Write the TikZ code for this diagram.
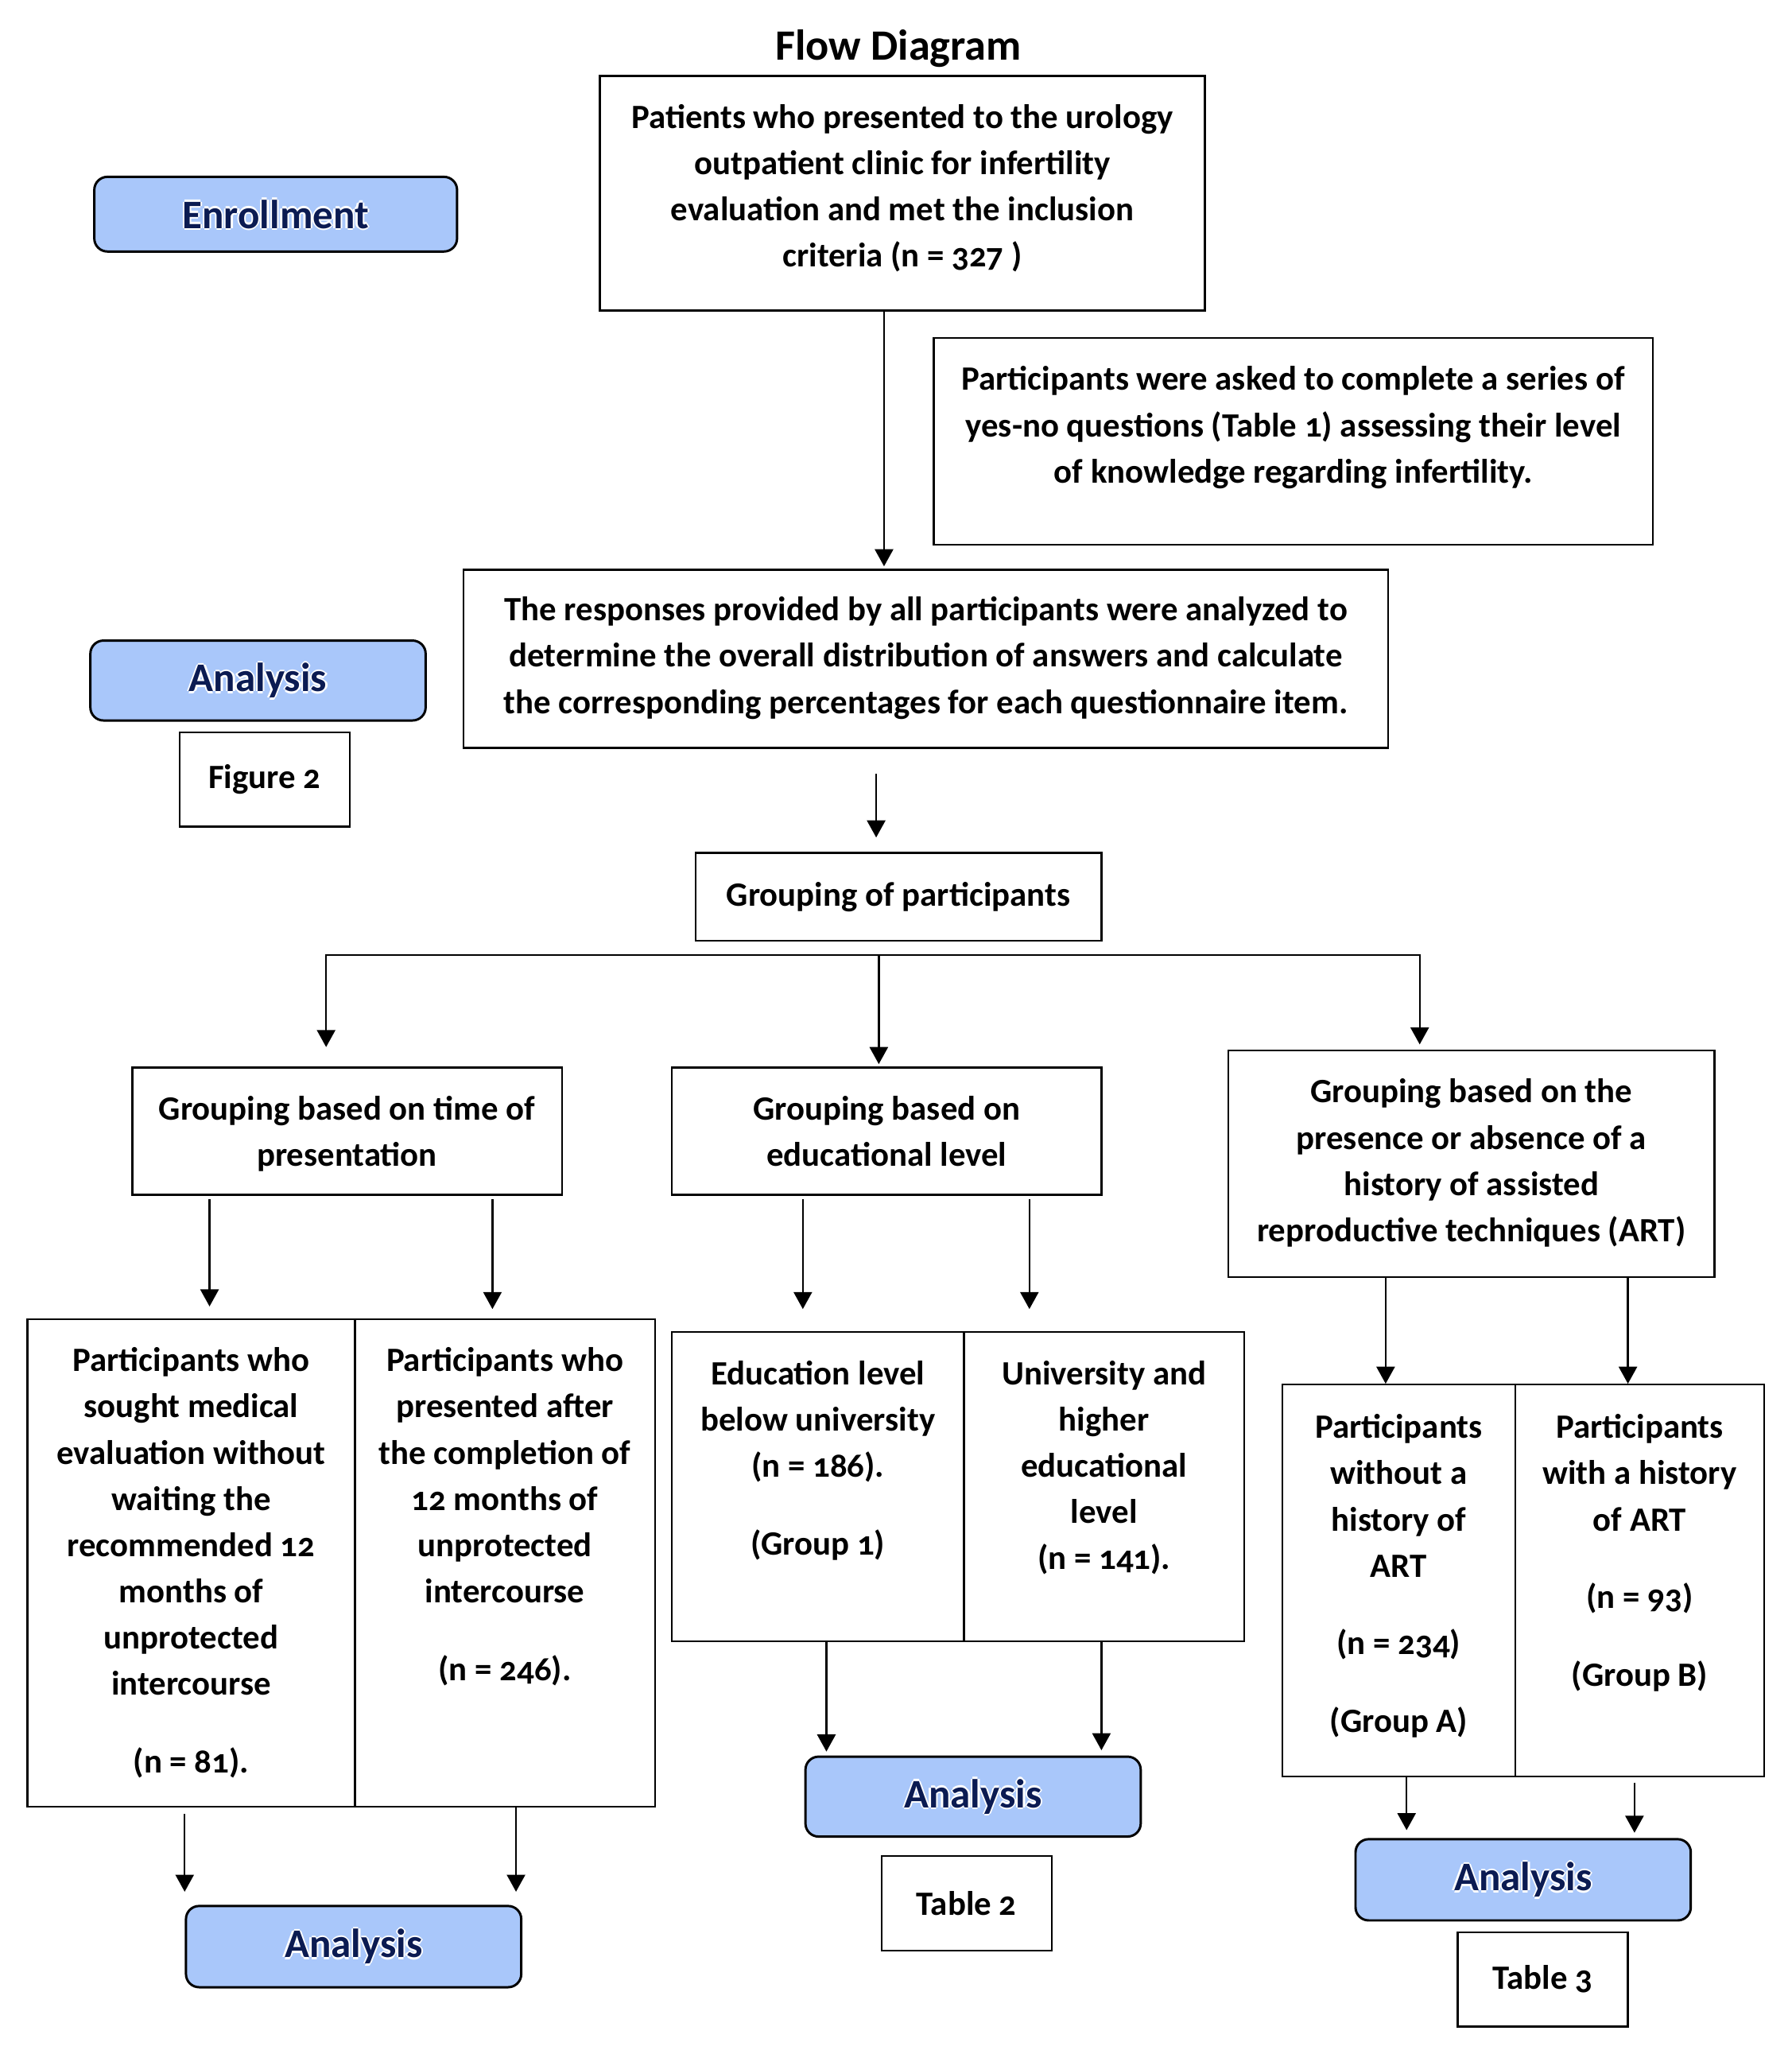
\documentclass[tikz,border=0pt]{standalone}
\usepackage{fontspec}
\setmainfont{Carlito}[Numbers=OldStyle]
\usetikzlibrary{arrows.meta,positioning}
\definecolor{hdrblue}{HTML}{A9C7FA}
\definecolor{hdrnavy}{HTML}{0B1B52}
\newcommand\glowtext[1]{\leavevmode
  \rlap{\color{white}\kern0.7pt#1}\rlap{\color{white}\kern-0.7pt#1}%
  \rlap{\color{white}\raisebox{0.7pt}{#1}}\rlap{\color{white}\raisebox{-0.7pt}{#1}}#1}

\begin{document}
\begin{tikzpicture}[x=0.5pt,y=-0.5pt,
    box/.style={draw=black,line width=0.7pt,inner sep=0pt,font=\fontsize{13}{17.65}\selectfont\bfseries},
    hdr/.style={draw=black,line width=0.9pt,rounded corners=5pt,fill=hdrblue,text=hdrnavy,
      inner sep=0pt,minimum width=128pt,font=\fontsize{15.5}{18}\selectfont\bfseries},
    txt/.style={align=center,inner sep=0pt,font=\fontsize{13}{17.65}\selectfont\bfseries},
    arr/.style={line width=0.7pt,-{Triangle[width=7pt,length=6.5pt]}}]
   \useasboundingbox (0,0) rectangle (1368,1568);

   % top part
   \node[font=\fontsize{16.5}{20}\selectfont\bfseries] (title) at (686,37) {Flow Diagram};
   \node[hdr,minimum width=138.5pt,minimum height=28.5pt] (enr) at (210.5,163.5) {\glowtext{Enrollment}};
   \node[box,minimum width=231pt,minimum height=89.5pt] (b1) at (689,147.5) {};
   \node[txt,below=11pt of b1.north] (t1) {Patients who presented to the urology\\ outpatient clinic for infertility\\ evaluation and met the inclusion\\ criteria (n = 327 )};
   \node[box,minimum width=274.5pt,minimum height=79pt] (b2) at (987.5,337) {};
   \node[txt,below=11pt of b2.north] (t2) {Participants were asked to complete a series of\\ yes-no questions (Table 1) assessing their level\\ of knowledge regarding infertility.};
   \node[box,minimum width=353pt,minimum height=68pt] (b3) at (707,503) {};
   \node[txt,below=10.5pt of b3.north] (t3) {The responses provided by all participants were analyzed to\\ determine the overall distribution of answers and calculate\\ the corresponding percentages for each questionnaire item.};
   \node[hdr,minimum height=30.5pt] (an1) at (197,519.5) {\glowtext{Analysis}};
   \node[box,minimum width=65pt,minimum height=36pt] (fig2) at (202,595) {Figure 2};
   \node[box,minimum width=155pt,minimum height=33.5pt] (grp) at (686,684.5) {Grouping of participants};

   % three groupings
   \node[box,minimum width=164pt,minimum height=48.5pt] (gT) at (265,863.5) {};
   \node[txt,below=11pt of gT.north] (tT) {Grouping based on time of\\ presentation};
   \node[box,minimum width=164pt,minimum height=48.5pt] (gE) at (677,863.5) {};
   \node[txt,below=11pt of gE.north] (tE) {Grouping based on\\ educational level};
   \node[box,minimum width=185.5pt,minimum height=86.5pt] (gA) at (1123.5,888.5) {};
   \node[txt,below=11pt of gA.north] (tA) {Grouping based on the\\ presence or absence of a\\ history of assisted\\ reproductive techniques (ART)};

   % sub groups
   \node[box,minimum width=125pt,minimum height=186pt] (pT1) at (146,1193) {};
   \node[txt,below=11pt of pT1.north] (sT1) {Participants who\\ sought medical\\ evaluation without\\ waiting the\\ recommended 12\\ months of\\ unprotected\\ intercourse\\[12pt] (n = 81).};
   \node[box,minimum width=114.5pt,minimum height=186pt] (pT2) at (385.5,1193) {};
   \node[txt,below=11pt of pT2.north] (sT2) {Participants who\\ presented after\\ the completion of\\ 12 months of\\ unprotected\\ intercourse\\[12pt] (n = 246).};
   \node[box,minimum width=111.5pt,minimum height=118pt] (pE1) at (624.5,1135) {};
   \node[txt,below=11pt of pE1.north] (sE1) {Education level\\ below university\\ (n = 186).\\[12pt] (Group 1)};
   \node[box,minimum width=107pt,minimum height=118pt] (pE2) at (843,1135) {};
   \node[txt,below=11pt of pE2.north] (sE2) {University and\\ higher\\ educational\\ level\\ (n = 141).};
   \node[box,minimum width=89pt,minimum height=149.5pt] (pA1) at (1068,1206.5) {};
   \node[txt,below=11.5pt of pA1.north] (sA1) {Participants\\ without a\\ history of\\ ART\\[12pt] (n = 234)\\[12pt] (Group A)};
   \node[box,minimum width=95pt,minimum height=149.5pt] (pA2) at (1252,1206.5) {};
   \node[txt,below=11.5pt of pA2.north] (sA2) {Participants\\ with a history\\ of ART\\[12pt] (n = 93)\\[12pt] (Group B)};

   % analyses
   \node[hdr,minimum height=31pt] (an2) at (270,1486) {\glowtext{Analysis}};
   \node[hdr,minimum height=30.5pt] (an3) at (743,1371.5) {\glowtext{Analysis}};
   \node[box,minimum width=65pt,minimum height=36pt] (tab2) at (738,1453) {Table 2};
   \node[hdr,minimum height=31pt] (an4) at (1163,1435) {\glowtext{Analysis}};
   \node[box,minimum width=65pt,minimum height=36pt] (tab3) at (1178,1511) {Table 3};

   % connectors
   \coordinate (c1) at (675,0);
   \coordinate (c2) at (669,0);
   \draw[arr,shorten >=1pt] (b1.south -| c1) -- (b3.north -| c1);
   \draw[arr,shorten <=9.5pt,shorten >=5.5pt] (b3.south -| c2) -- (grp.north -| c2);

   \coordinate (hL) at (249,729);
   \coordinate (hM) at (671,729);
   \coordinate (hR) at (1084,729);
   \draw[arr,shorten >=7.5pt] (hM) -- (hL) -- (gT.north -| hL);
   \draw[arr,shorten >=1pt] (hM) -- (gE.north -| hM);
   \draw[arr,shorten >=2pt] (hM) -- (hR) -- (gA.north -| hR);

   \coordinate (d1) at (160,0);
   \coordinate (d2) at (376,0);
   \coordinate (d3) at (141,0);
   \coordinate (d4) at (394,0);
   \draw[arr,shorten <=1.5pt,shorten >=4.5pt] (gT.south -| d1) -- (pT1.north -| d1);
   \draw[arr,shorten <=1.5pt,shorten >=3.5pt] (gT.south -| d2) -- (pT2.north -| d2);
   \draw[arr,shorten <=2.5pt,shorten >=5pt] (pT1.south -| d3) -- (an2.north -| d3);
   \draw[arr,shorten >=5pt] (pT2.south -| d4) -- (an2.north -| d4);

   \coordinate (e1) at (613,0);
   \coordinate (e2) at (786,0);
   \coordinate (e3) at (631,0);
   \coordinate (e4) at (841,0);
   \draw[arr,shorten <=1.5pt,shorten >=8.5pt] (gE.south -| e1) -- (pE1.north -| e1);
   \draw[arr,shorten <=1.5pt,shorten >=8.5pt] (gE.south -| e2) -- (pE2.north -| e2);
   \draw[arr,shorten >=1.5pt] (pE1.south -| e3) -- (an3.north -| e3);
   \draw[arr,shorten >=2pt] (pE2.south -| e4) -- (an3.north -| e4);

   \coordinate (f1) at (1058,0);
   \coordinate (f2) at (1243,0);
   \coordinate (f3) at (1074,0);
   \coordinate (f4) at (1248,0);
   \draw[arr] (gA.south -| f1) -- (pA1.north -| f1);
   \draw[arr] (gA.south -| f2) -- (pA2.north -| f2);
   \draw[arr,shorten >=3pt] (pA1.south -| f3) -- (an4.north -| f3);
   \draw[arr,shorten <=2pt,shorten >=2pt] (pA2.south -| f4) -- (an4.north -| f4);
\end{tikzpicture}
\end{document}
